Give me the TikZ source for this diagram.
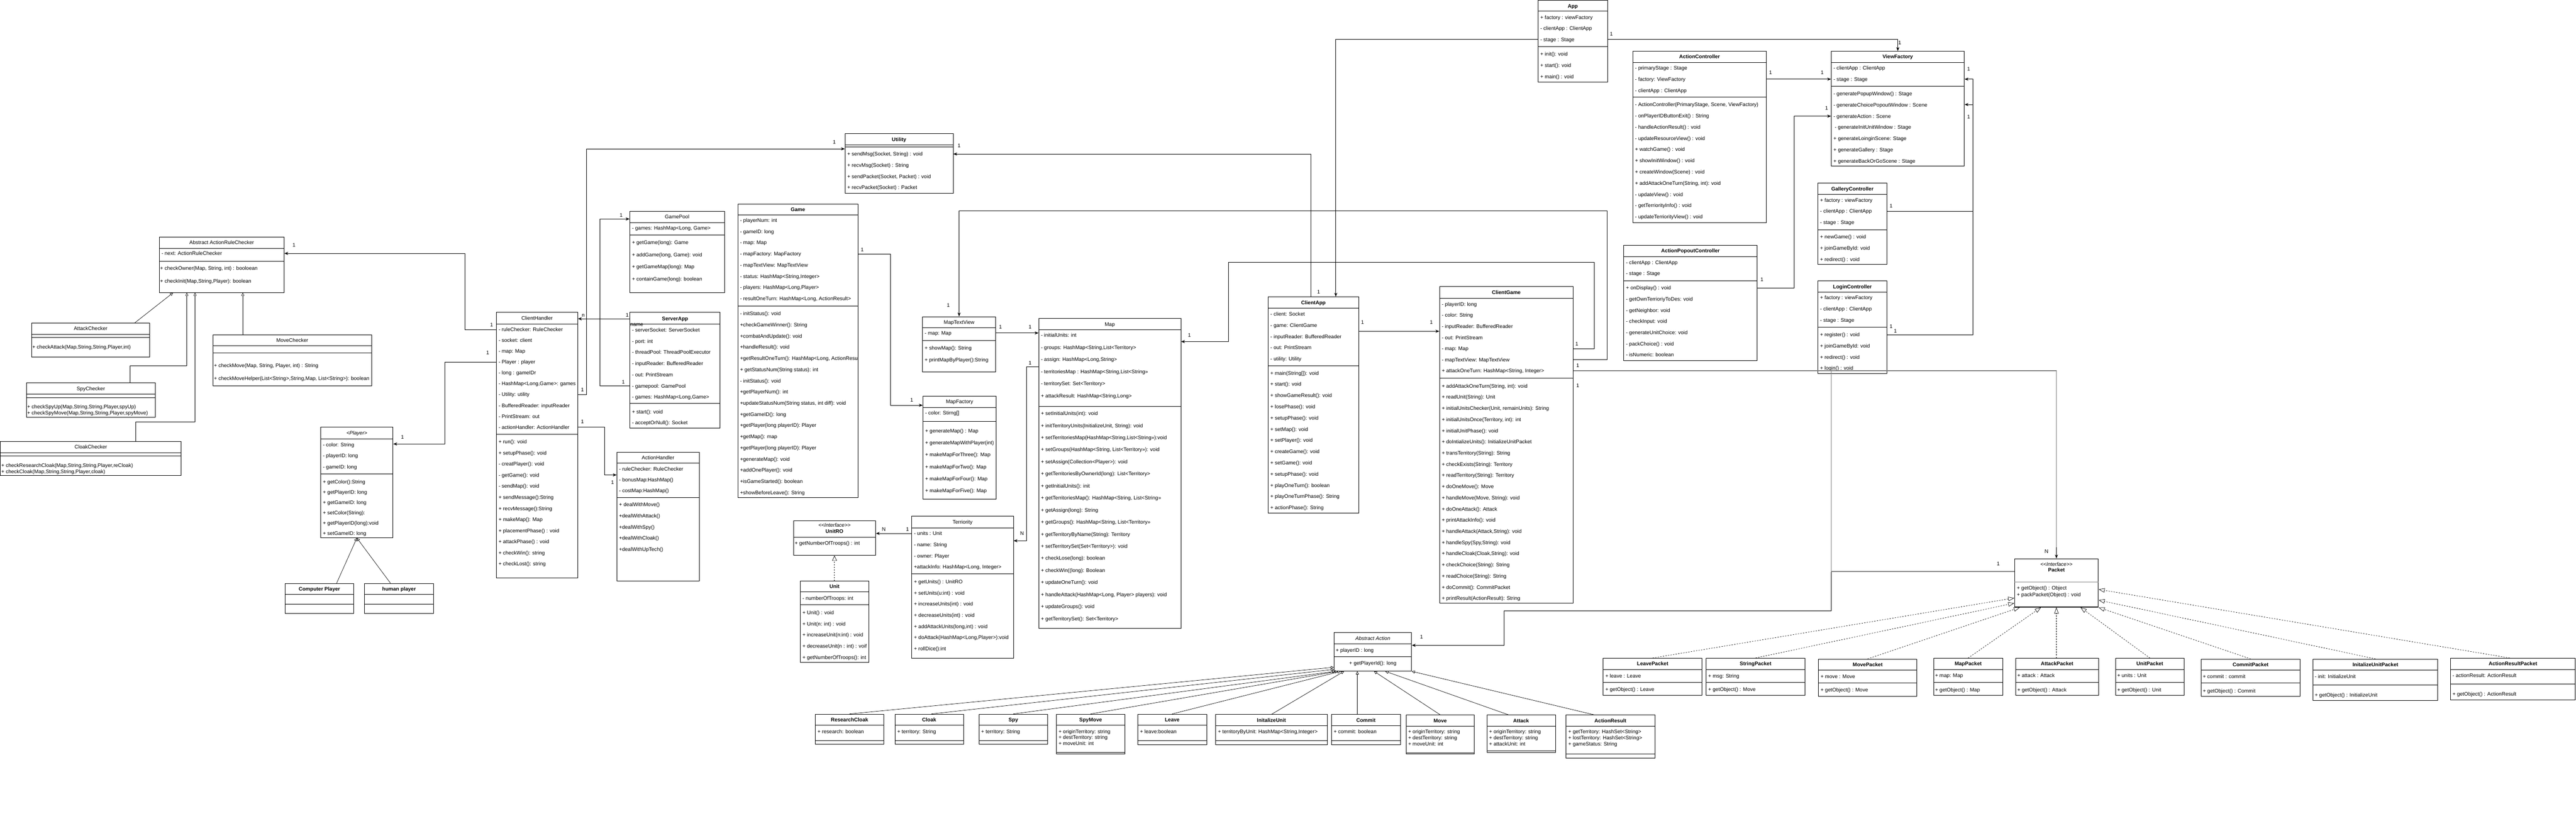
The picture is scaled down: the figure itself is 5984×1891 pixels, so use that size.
\documentclass[tikz,border=0pt]{standalone}
\usepackage{fontspec}
\setmainfont{Liberation Sans}
\usetikzlibrary{arrows.meta,fit}

\tikzset{
  classbox/.style={draw, line width=1pt, inner sep=0pt},
  ttl/.style={inner sep=0pt, text height=8.6pt, text depth=0pt, font=\fontsize{12}{14}\selectfont},
  bttl/.style={ttl, font=\fontsize{12}{14}\selectfont\bfseries},
  ittl/.style={ttl, font=\fontsize{12}{14}\selectfont\itshape},
  rowtxt/.style={anchor=west, inner sep=0pt, text height=8.6pt, text depth=0pt, font=\fontsize{12}{14}\selectfont},
  divider/.style={line width=1pt},
  assoc/.style={line width=1pt, -{Stealth[length=9pt,width=7pt]}},
  gensmall/.style={line width=0.8pt, -{Triangle[open,length=7pt,width=7pt]}},
  realize/.style={line width=0.8pt, dash pattern=on 3pt off 3pt, -{Triangle[open,length=14pt,width=10pt]}},
  thickgray/.style={line width=2.2pt, draw=black!50},
  multlbl/.style={inner sep=0pt, font=\fontsize{12}{14}\selectfont},
}

% a line across a class box at height #2
\newcommand\divline[2]{\draw[divider] (#1.west |- 0,#2) -- (#1.east |- 0,#2);}
% rows of a compartment: prefix, x, first y, pitch, list
\newcommand\rowsat[5]{\foreach \rtxt [count=\i] in {#5} {\pgfmathsetmacro\yy{#3+(\i-1)*#4}\node[rowtxt] (#1-\i) at (#2,\yy) {\rtxt};}}

\begin{document}
\begin{tikzpicture}[x=1pt, y=-1pt]
\fill[white] (0,0) rectangle (5984,1891);
\useasboundingbox (0,0) rectangle (5984,1891);

% rule checkers
\node[classbox, fit={(370,551) (660,680)}] (arc) {};
\node[ttl] (arc-t) at (arc.north |- 0,563) {Abstract ActionRuleChecker};
\divline{arc}{577}\divline{arc}{607}
\rowsat{arca}{375}{589}{29}{- next: ActionRuleChecker}
\rowsat{arcm}{372}{624}{29}{{+ checkOwner(Map, String, int) : booloean}, {+ checkInit(Map,String,Player): boolean}}

\node[classbox, fit={(73,751) (348,830)}] (attackchk) {};
\node[ttl] (attackchk-t) at (attackchk.north |- 0,764) {AttackChecker};
\divline{attackchk}{777}\divline{attackchk}{784}
\rowsat{attackchkm}{75}{806}{15}{{+ checkAttack(Map,String,String,Player,int)}}

\node[classbox, fit={(495,778) (863,897)}] (movechk) {};
\node[ttl] (movechk-t) at (movechk.north |- 0,791) {MoveChecker};
\divline{movechk}{804}\divline{movechk}{820}
\rowsat{movechkm}{497}{850}{30}{{+ checkMove(Map, String, Player,  int) : String}, {+ checkMoveHelper(List<String>,String,Map, List<String>): boolean}}

\node[classbox, fit={(61,890) (361,970)}] (spychk) {};
\node[ttl] (spychk-t) at (spychk.north |- 0,903) {SpyChecker};
\divline{spychk}{916}\divline{spychk}{925}
\rowsat{spychkm}{63}{945}{15}{{+ checkSpyUp(Map,String,String,Player,spyUp)}, {+ checkSpyMove(Map,String,String,Player,spyMove)}}

\node[classbox, fit={(1,1026) (421,1105)}] (cloakchk) {};
\node[ttl] (cloakchk-t) at (cloakchk.north |- 0,1039) {CloakChecker};
\divline{cloakchk}{1052}\divline{cloakchk}{1060}
\rowsat{cloakchkm}{3}{1082}{14}{{+ checkResearchCloak(Map,String,String,Player,reCloak)}, {+ checkCloak(Map,String,String,Player,cloak)}}

% players
\node[classbox, fit={(745,993) (913,1250)}] (player) {};
\node[ittl] (player-t) at (player.north |- 0,1006) {<Player>};
\divline{player}{1020}\divline{player}{1101}
\rowsat{playera}{750}{1034}{25.5}{- color: String, - playerID: long, - gameID: long}
\rowsat{playerm}{750}{1120}{24}{+ getColor():String, + getPlayerID: long, + getGameID: long, + setColor(String):, + getPlayerID(long):void, + setGameID: long}

\node[classbox, fit={(662,1356) (822,1426)}] (comp) {};
\node[bttl] (comp-t) at (comp.north |- 0,1369) {Computer Player};
\divline{comp}{1382}\divline{comp}{1404}

\node[classbox, fit={(847,1356) (1007,1426)}] (human) {};
\node[bttl] (human-t) at (human.north |- 0,1369) {human player};
\divline{human}{1382}\divline{human}{1404}

% server side
\node[classbox, fit={(1153,726) (1342,1343)}] (ch) {};
\node[ttl] (ch-t) at (ch.north |- 0,740) {ClientHandler};
\divline{ch}{753}\divline{ch}{1009}
\rowsat{cha}{1158}{766}{25.2}{- ruleChecker: RuleChecker, - socket: client, - map: Map, - Player : player, - long : gameIDr, {- HashMap<Long,Game>: games}, - Utility: utility, - BufferedReader: inputReader, - PrintStream: out, - actionHandler: ActionHandler}
\rowsat{chm}{1158}{1027}{25.8}{+ run(): void, + setupPhase(): void, - creatPlayer(): void, - getGame(): void, - sendMap(): void, + sendMessage():String, + recvMessage():String, + makeMap(): Map, + placementPhase() : void, + attackPhase() : void, + checkWin(): string, + checkLost(): string}

\node[classbox, fit={(1463,491) (1683,680)}] (gp) {};
\node[ttl] (gp-t) at (gp.north |- 0,504) {GamePool};
\divline{gp}{517}\divline{gp}{546}
\rowsat{gpa}{1468}{530}{28}{{- games: HashMap<Long, Game>}}
\rowsat{gpm}{1468}{564}{28}{+ getGame(long): Game, {+ addGame(long, Game): void}, + getGameMap(long): Map, + containGame(long): boolean}

\node[classbox, fit={(1463,726) (1673,995)}] (sa) {};
\node[bttl] (sa-t) at (sa.north |- 0,741) {ServerApp};
\divline{sa}{753}\divline{sa}{938}
\node[rowtxt] (sa-name) at (1464,754) {name};
\rowsat{saa}{1468}{767}{26}{- serverSocket: ServerSocket, - port: int, - threadPool: ThreadPoolExecutor, - inputReader: BufferedReader, - out: PrintStream, - gamepool: GamePool, {- games: HashMap<Long,Game>}}
\rowsat{sam}{1468}{957}{26}{+ start(): void, - acceptOrNull(): Socket}

\node[classbox, fit={(1433,1051) (1624,1350)}] (ah) {};
\node[ttl] (ah-t) at (ah.north |- 0,1064) {ActionHandler};
\divline{ah}{1077}\divline{ah}{1156}
\rowsat{aha}{1438}{1090}{25}{- ruleChecker: RuleChecker, - bonusMap:HashMap(), - costMap:HashMap()}
\rowsat{ahm}{1438}{1173}{26}{+ dealWithMove(), +dealWithAttack(), +dealWithSpy(), +dealWithCloak(), +dealWithUpTech()}

\node[classbox, fit={(1714,474) (1993,1157)}] (game) {};
\node[bttl] (game-t) at (game.north |- 0,487) {Game};
\divline{game}{500}\divline{game}{711}
\rowsat{gamea}{1719}{512}{26}{- playerNum: int, - gameID: long, - map: Map, - mapFactory: MapFactory, - mapTextView: MapTextView, {- status: HashMap<String,Integer>}, {- players: HashMap<Long,Player>}, {- resultOneTurn: HashMap<Long, ActionResult>}}
\rowsat{gamem}{1719}{729}{26}{- initStatus(): void, +checkGameWinner(): String, +combatAndUpdate(): void, +handleResult(): void, {+getResultOneTurn(): HashMap<Long, ActionResu}, + getStatusNum(String status): int, - initStatus(): void, +getPlayerNum(): int, {+updateStatusNum(String status, int diff): void}, +getGameID(): long, +getPlayer(long playerID): Player, +getMap(): map, +getPlayer(long playerID): Player, +generateMap(): void, +addOnePlayer(): void, +isGameStarted(): boolean, +showBeforeLeave(): String}

\node[classbox, fit={(1963,311) (2214,449)}] (util) {};
\node[bttl] (util-t) at (util.north |- 0,324) {Utility};
\divline{util}{337}\divline{util}{341}
\rowsat{utilm}{1968}{358}{26}{{+ sendMsg(Socket, String) : void}, + recvMsg(Socket) : String, {+ sendPacket(Socket, Packet) : void}, + recvPacket(Socket) : Packet}

% map side
\node[classbox, fit={(2143,736) (2313,865)}] (mtv) {};
\node[ttl] (mtv-t) at (mtv.north |- 0,749) {MapTextView};
\divline{mtv}{762}\divline{mtv}{791}
\rowsat{mtva}{2148}{774}{28}{- map: Map}
\rowsat{mtvm}{2148}{809}{28}{+ showMap(): String, + printMapByPlayer():String}

\node[classbox, fit={(2144,921) (2314,1160)}] (mf) {};
\node[ttl] (mf-t) at (mf.north |- 0,933) {MapFactory};
\divline{mf}{947}\divline{mf}{980}
\rowsat{mfa}{2149}{960}{28}{- color: Stirng[]}
\rowsat{mfm}{2149}{1001}{28}{+ generateMap() : Map, + generateMapWithPlayer(int), + makeMapForThree(): Map, + makeMapForTwo(): Map, + makeMapForFour(): Map, + makeMapForFive(): Map}

\node[classbox, fit={(2413,740) (2743,1460)}] (map) {};
\node[ttl] (map-t) at (map.north |- 0,754) {Map};
\divline{map}{766}\divline{map}{945}
\rowsat{mapa}{2418}{779}{28.2}{- initialUnits: int, {- groups: HashMap<String,List<Territory>}, {- assign: HashMap<Long,String>}, {- territoriesMap : HashMap<String,List<String>>}, - territorySet: Set<Territory>, {+ attackResult: HashMap<String,Long>}}
\rowsat{mapm}{2418}{961}{28.06}{+ setInitialUnits(int): void, {+ initTerritoryUnits(InitializeUnit, String): void}, {+ setTerritoriesMap(HashMap<String,List<String>>):void}, {+ setGroups(HashMap<String, List<Territory>>): void}, + setAssign(Collection<Player>): void, + getTerritoriesByOwnerId(long): List<Territory>, + getInitialUnits(): init, {+ getTerritoriesMap(): HashMap<String, List<String>>}, + getAssign(long): String, {+ getGroups(): HashMap<String, List<Territory>>}, + getTerritoryByName(String): Territory, + setTerritorySet(Set<Territory>): void, + checkLose(long): boolean, + checkWin((long): Boolean, + updateOneTurn(): void, {+ handleAttack(HashMap<Long, Player> players): void}, + updateGroups(): void, + getTerritorySet(): Set<Territory>}

\node[classbox, fit={(2118,1200) (2354,1530)}] (terr) {};
\node[ttl] (terr-t) at (terr.north |- 0,1213) {Terriority};
\divline{terr}{1227}\divline{terr}{1334}
\rowsat{terra}{2123}{1240}{26}{- units : Unit, - name: String, - owner: Player, {+attackInfo: HashMap<Long, Integer>}}
\rowsat{terrm}{2123}{1352}{26}{+ getUnits() :  UnitRO, + setUnits(u:int) :  void, + increaseUnits(int) :  void, + decreaseUnits(int) :  void, {+ addAttackUnits(long,int) :  void}, {+ doAttack(HashMap<Long,Player>):void}, + rollDice():int}

\node[classbox, fit={(1843,1210) (2034,1291)}] (unitro) {};
\node[ittl] (unitro-s) at (unitro.north |- 0,1221) {<{}<Interface>{}>};
\node[bttl] (unitro-t) at (unitro.north |- 0,1235) {UnitRO};
\divline{unitro}{1249}
\rowsat{unitrom}{1846}{1263}{26}{+ getNumberOfTroops() : int}

\node[classbox, fit={(1859,1351) (2018,1540)}] (unit) {};
\node[bttl] (unit-t) at (unit.north |- 0,1363) {Unit};
\divline{unit}{1376}\divline{unit}{1406}
\rowsat{unita}{1864}{1390}{26}{- numberOfTroops: int}
\rowsat{unitm}{1864}{1424}{26}{+ Unit() : void, + Unit(n: int) : void, + increaseUnit(n:int) :  void, + decreaseUnit(n : int) : voif, + getNumberOfTroops(): int}

% client side
\node[classbox, fit={(2946,690) (3156,1193)}] (capp) {};
\node[bttl] (capp-t) at (capp.north |- 0,704) {ClientApp};
\divline{capp}{716}\divline{capp}{850}
\rowsat{cappa}{2951}{730}{26}{- client: Socket, - game: ClientGame, - inputReader: BufferedReader, - out: PrintStream, - utility: Utility}
\rowsat{cappm}{2951}{867}{26.1}{+ main(String[]): void, + start(): void, + showGameResult(): void, + losePhase(): void, + setupPhase(): void, + setMap(): void, + setPlayer(): void, + createGame(): void, + setGame(): void, + setupPhase(): void, + playOneTurn(): boolean, + playOneTurnPhase(): String, + actionPhase(): String}

\node[classbox, fit={(3344,666) (3654,1402)}] (cgame) {};
\node[bttl] (cgame-t) at (cgame.north |- 0,680) {ClientGame};
\divline{cgame}{693}\divline{cgame}{879}
\rowsat{cga}{3349}{707}{25.8}{- playerID: long, - color: String, - inputReader: BufferedReader, - out: PrintStream, - map: Map, - mapTextView: MapTextView, {+ attackOneTurn: HashMap<String, Integer>}}
\rowsat{cgm}{3349}{897}{26}{{+ addAttackOneTurn(String, int): void}, + readUnit(String): Unit, {+ initialUnitsChecker(Unit, remainUnits): String}, {+ initialUnitsOnce(Territory, int): int}, + initialUnitPhase(): void, + doIntializeUnits(): InitializeUnitPacket, + transTerritory(String): String, + checkExists(String): Territory, + readTerritory(String): Territory, + doOneMove(): Move, {+ handleMove(Move, String): void}, + doOneAttack(): Attack, + printAttackInfo(): void, {+ handleAttack(Attack,String): void}, {+ handleSpy(Spy,String): void}, {+ handleCloak(Cloak,String): void}, + checkChoice(String): String, + readChoice(String): String, + doCommit(): CommitPacket, + printResult(ActionResult): String}

% views
\node[classbox, fit={(3573,1) (3734,191)}] (app) {};
\node[bttl] (app-t) at (app.north |- 0,14) {App};
\divline{app}{26}\divline{app}{108}
\rowsat{appa}{3578}{40}{26}{+ factory : viewFactory, - clientApp : ClientApp, - stage : Stage}
\rowsat{appm}{3578}{126}{26}{+ init(): void, + start(): void, + main() : void}

\node[classbox, fit={(3793,119) (4103,517)}] (actc) {};
\node[bttl] (actc-t) at (actc.north |- 0,131) {ActionController};
\divline{actc}{145}\divline{actc}{226}
\rowsat{actca}{3798}{158}{26}{- primaryStage : Stage, - factory: ViewFactory, - clientApp : ClientApp}
\rowsat{actcm}{3798}{243}{26.1}{{- ActionController(PrimaryStage, Scene, ViewFactory)}, - onPlayerIDButtonExit() : String, - handleActionResult() : void, - updateResourceView() : void, + watchGame() : void, + showInitWindow() : void, + createWindow(Scene) : void, {+ addAttackOneTurn(String, int): void}, - updateView() : void, - getTerriorityInfo() : void, - updateTerriorityView() : void}

\node[classbox, fit={(4254,119) (4563,386)}] (vf) {};
\node[bttl] (vf-t) at (vf.north |- 0,131) {ViewFactory};
\divline{vf}{145}\divline{vf}{200}
\rowsat{vfa}{4259}{158}{26}{- clientApp : ClientApp, - stage : Stage}
\rowsat{vfm}{4259}{218}{26}{- generatePopupWindow() : Stage, - generateChoicePopoutWindow : Scene, - generateAction : Scene, \hspace*{3pt}- generateInitUnitWindow : Stage, + generateLoinginScene: Stage, + generateGallery : Stage, + generateBackOrGoScene : Stage}

\node[classbox, fit={(4223,425) (4383,615)}] (galc) {};
\node[bttl] (galc-t) at (galc.north |- 0,439) {GalleryController};
\divline{galc}{452}\divline{galc}{534}
\rowsat{galca}{4228}{465}{26}{+ factory : viewFactory, - clientApp : ClientApp, - stage : Stage}
\rowsat{galcm}{4228}{551}{26}{+ newGame() : void, + joinGameById: void, + redirect() : void}

\node[classbox, fit={(4223,653) (4383,868)}] (logc) {};
\node[bttl] (logc-t) at (logc.north |- 0,666) {LoginController};
\divline{logc}{679}\divline{logc}{761}
\rowsat{logca}{4228}{692}{26}{+ factory : viewFactory, - clientApp : ClientApp, - stage : Stage}
\rowsat{logcm}{4228}{778}{26}{+ register() : void, + joinGameById: void, + redirect() : void, + login() : void}

\node[classbox, fit={(3772,570) (4082,838)}] (apc) {};
\node[bttl] (apc-t) at (apc.north |- 0,583) {ActionPopoutController};
\divline{apc}{596}\divline{apc}{653}
\rowsat{apca}{3777}{610}{25.5}{- clientApp : ClientApp, - stage : Stage}
\rowsat{apcm}{3777}{669}{26}{+ onDisplay() : void, - getOwnTerrioriyToDes: void, - getNeighbor: void, - checkInput: void, - generateUnitChoice: void, - packChoice() : void, - isNumeric: boolean}

% packets
\node[classbox, line width=2pt, fit={(4680,1299) (4874,1411)}] (packet) {};
\node[ittl] (packet-s) at (packet.north |- 0,1312) {<{}<Interface>{}>};
\node[bttl] (packet-t) at (packet.north |- 0,1325) {Packet};
\draw[divider, black!45] (packet.west |- 0,1353) -- (packet.east |- 0,1353);
\rowsat{packetm}{4685}{1367}{15}{+ getObject() : Object, + packPacket(Object) : void}

\node[classbox, fit={(3724,1530) (3954,1616)}] (leavep) {};
\node[bttl] (leavep-t) at (leavep.north |- 0,1543) {LeavePacket};
\divline{leavep}{1556}\divline{leavep}{1586}
\node[rowtxt] (leavep-a) at (3729,1571) {+ leave : Leave};
\node[rowtxt] (leavep-m) at (3729,1602) {+ getObject() : Leave};

\node[classbox, fit={(3963,1530) (4193,1616)}] (strp) {};
\node[bttl] (strp-t) at (strp.north |- 0,1543) {StringPacket};
\divline{strp}{1556}\divline{strp}{1586}
\node[rowtxt] (strp-a) at (3968,1571) {+ msg: String};
\node[rowtxt] (strp-m) at (3968,1602) {+ getObject() : Move};

\node[classbox, fit={(4224,1532) (4453,1618)}] (movep) {};
\node[bttl] (movep-t) at (movep.north |- 0,1545) {MovePacket};
\divline{movep}{1558}\divline{movep}{1588}
\node[rowtxt] (movep-a) at (4229,1573) {+ move : Move};
\node[rowtxt] (movep-m) at (4229,1604) {+ getObject() : Move};

\node[classbox, fit={(4492,1530) (4652,1616)}] (mapp) {};
\node[bttl] (mapp-t) at (mapp.north |- 0,1543) {MapPacket};
\divline{mapp}{1556}\divline{mapp}{1586}
\node[rowtxt] (mapp-a) at (4495,1570) {+ map: Map};
\node[rowtxt] (mapp-m) at (4495,1604) {+ getObject() : Map};

\node[classbox, fit={(4682,1530) (4875,1616)}] (attp) {};
\node[bttl] (attp-t) at (attp.north |- 0,1543) {AttackPacket};
\divline{attp}{1556}\divline{attp}{1586}
\node[rowtxt] (attp-a) at (4686,1570) {+ attack : Attack};
\node[rowtxt] (attp-m) at (4686,1604) {+ getObject() : Attack};

\node[classbox, fit={(4914,1530) (5074,1616)}] (unitp) {};
\node[bttl] (unitp-t) at (unitp.north |- 0,1543) {UnitPacket};
\divline{unitp}{1556}\divline{unitp}{1586}
\node[rowtxt] (unitp-a) at (4918,1570) {+ units : Unit};
\node[rowtxt] (unitp-m) at (4918,1604) {+ getObject() : Unit};

\node[classbox, fit={(5113,1532) (5343,1618)}] (commitp) {};
\node[bttl] (commitp-t) at (commitp.north |- 0,1545) {CommitPacket};
\divline{commitp}{1558}\divline{commitp}{1588}
\node[rowtxt] (commitp-a) at (5117,1572) {+ commit : commit};
\node[rowtxt] (commitp-m) at (5117,1606) {+ getObject() : Commit};

\node[classbox, fit={(5373,1532) (5663,1628)}] (initp) {};
\node[bttl] (initp-t) at (initp.north |- 0,1545) {InitalizeUnitPacket};
\divline{initp}{1558}\divline{initp}{1592}
\node[rowtxt] (initp-a) at (5377,1572) {- init: InitializeUnit};
\node[rowtxt] (initp-m) at (5377,1615) {+ getObject() :  InitializeUnit};

\node[classbox, fit={(5693,1530) (5982,1627)}] (arp) {};
\node[bttl] (arp-t) at (arp.north |- 0,1543) {ActionResultPacket};
\divline{arp}{1556}\divline{arp}{1590}
\node[rowtxt] (arp-a) at (5697,1570) {- actionResult: ActionResult};
\node[rowtxt] (arp-m) at (5697,1613) {+ getObject() :  ActionResult};

% actions
\node[classbox, fit={(3099,1470) (3279,1560)}] (action) {};
\node[ittl] (action-t) at (action.north |- 0,1484) {Abstract Action};
\divline{action}{1497}\divline{action}{1526}
\node[rowtxt] (action-a) at (3103,1511) {+ playerID : long};
\node[ttl] (action-m) at (action.north |- 0,1541) {+ getPlayerId(): long};

\node[classbox, fit={(1894,1660) (2053,1730)}] (rcloak) {};
\node[bttl] (rcloak-t) at (rcloak.north |- 0,1673) {ResearchCloak};
\divline{rcloak}{1686}\divline{rcloak}{1721}
\node[rowtxt] (rcloak-a) at (1899,1700) {+ research: boolean};

\node[classbox, fit={(2079,1660) (2238,1730)}] (cloak) {};
\node[bttl] (cloak-t) at (cloak.north |- 0,1673) {Cloak};
\divline{cloak}{1686}\divline{cloak}{1721}
\node[rowtxt] (cloak-a) at (2084,1700) {+ territory: String};

\node[classbox, fit={(2274,1660) (2434,1730)}] (spy) {};
\node[bttl] (spy-t) at (spy.north |- 0,1673) {Spy};
\divline{spy}{1686}\divline{spy}{1721}
\node[rowtxt] (spy-a) at (2279,1700) {+ territory: String};

\node[classbox, fit={(2454,1660) (2613,1752)}] (spymove) {};
\node[bttl] (spymove-t) at (spymove.north |- 0,1673) {SpyMove};
\divline{spymove}{1686}\divline{spymove}{1749}
\rowsat{spymovea}{2459}{1700}{14}{+ originTerritory: string, + destTerritory: string, + moveUnit: int}

\node[classbox, fit={(2643,1660) (2803,1731)}] (leave) {};
\node[bttl] (leave-t) at (leave.north |- 0,1673) {Leave};
\divline{leave}{1686}\divline{leave}{1721}
\node[rowtxt] (leave-a) at (2648,1700) {+ leave:boolean};

\node[classbox, fit={(2824,1661) (3083,1731)}] (initu) {};
\node[bttl] (initu-t) at (initu.north |- 0,1674) {InitalizeUnit};
\divline{initu}{1687}\divline{initu}{1721}
\node[rowtxt] (initu-a) at (2829,1701) {+ territoryByUnit: HashMap<String,Integer>};

\node[classbox, fit={(3093,1661) (3253,1731)}] (commit) {};
\node[bttl] (commit-t) at (commit.north |- 0,1674) {Commit};
\divline{commit}{1687}\divline{commit}{1721}
\node[rowtxt] (commit-a) at (3098,1701) {+ commit: boolean};

\node[classbox, fit={(3266,1662) (3425,1753)}] (move) {};
\node[bttl] (move-t) at (move.north |- 0,1675) {Move};
\divline{move}{1688}\divline{move}{1750}
\rowsat{movea}{3271}{1701}{14}{+ originTerritory: string, + destTerritory: string, + moveUnit: int}

\node[classbox, fit={(3454,1662) (3613,1749)}] (attack) {};
\node[bttl] (attack-t) at (attack.north |- 0,1675) {Attack};
\divline{attack}{1688}\divline{attack}{1746}
\rowsat{attacka}{3459}{1701}{14}{+ originTerritory: string, + destTerritory: string, + attackUnit: int}

\node[classbox, fit={(3638,1662) (3844,1762)}] (ares) {};
\node[bttl] (ares-t) at (ares.north |- 0,1675) {ActionResult};
\divline{ares}{1688}\divline{ares}{1752}
\rowsat{aresa}{3643}{1701}{14}{+ getTerritory: HashSet<String>, + lostTerritory: HashSet<String>, + gameStatus: String}

% associations
\draw[assoc] (ch.west |- cha-1) -| (1080,589) -- (arc.east |- arca-1);
\draw[assoc] (ch.west |- cha-4) -| (1033,1032) -- (player.east |- 0,1032);
\draw[assoc] (ch.east |- cha-7) -| (1363,346) -- (util.west |- 0,346);
\draw[assoc] (ch.east |- cha-10) -| (1404,1104) -- (ah.west |- 0,1104);
\draw[assoc] (sa.west |- 0,741) -- (ch.east |- 0,741);
\draw[assoc] (sa.west |- saa-6) -| (1393,509) -- (gp.west |- 0,509);
\draw[assoc] (game.east |- gamea-4) -| (2068,942) -- (mf.west |- 0,942);
\draw[assoc] (mtv.east |- mtva-1) -- (map.west |- mtva-1);
\draw[assoc] (map.west |- 0,853) -| (2384,1257) -- (terr.east |- 0,1257);
\draw[assoc] (terr.west |- terra-1) -- (unitro.east |- terra-1);
\draw[assoc] (capp.north -| 3045,0) |- (util.east |- 0,358);
\draw[assoc] (app.west |- appa-3) -| (capp.north -| 3103,0);
\draw[assoc] (capp.east |- 0,770) -- (cgame.west |- 0,770);
\draw[assoc] (cgame.east |- cga-5) -| (3703,610) -| (2854,794) -- (map.east |- 0,794);
\draw[assoc] (cgame.east |- cga-6) -| (3733,490) -| (mtv.north);
\draw[assoc] (cgame.east |- cga-7) -| (4254,1420) -| (3494,1500) -- (action.east |- 0,1500);
\coordinate (pk) at (4254,1328);
\draw[thickgray] (cgame.east |- cga-7) -| (pk) -- (packet.west |- pk);
\draw[thickgray] (cgame.east |- cga-7) -| ([yshift=26pt]packet.north);
\draw[assoc] ([yshift=26pt]packet.north) -- (packet.north);
\draw[assoc] (app.east |- appa-3) -| (vf.north);
\draw[assoc] (actc.east |- 0,184) -- (vf.west |- 0,184);
\draw[assoc] (galc.east |- galca-2) -| (4583,184) -- (vf.east |- 0,184);
\draw[assoc] (logc.east |- logcm-1) -| (4583,243) -- (vf.east |- 0,243);
\draw[assoc] (apc.east |- apcm-1) -| (4168,270) -- (vf.west |- 0,270);

% generalisations
\draw[gensmall] (attackchk.north -| 313,0) -- (arc.south -| 402,0);
\draw[gensmall] (spychk.north -| 302,0) |- (434,850) -- (arc.south -| 434,0);
\draw[gensmall] (cloakchk.north -| 315,0) |- (453,980) -- (arc.south -| 453,0);
\draw[gensmall] (movechk.north -| 564,0) -- (arc.south -| 564,0);
\draw[gensmall] (comp.north -| 782,0) -- (player.south);
\draw[gensmall] (human.north -| 907,0) -- (player.south);
\draw[realize, -{Triangle[open,length=12pt,width=11pt]}] (unit.north) -- (unitro.south);

\draw[gensmall] (rcloak.north) -- (action.south west |- 0,1551);
\draw[gensmall] (cloak.north -| 2164,0) -- (action.south west |- 0,1556);
\draw[gensmall] (spy.north) -- (action.south -| 3102,0);
\draw[gensmall] (spymove.north) -- (action.south -| 3108,0);
\draw[gensmall] (leave.north) -- (action.south -| 3114,0);
\draw[gensmall] (initu.north) -- (action.south -| 3122,0);
\draw[gensmall] (commit.north -| 3153,0) -- (action.south -| 3153,0);
\draw[gensmall] (move.north) -- (action.south -| 3192,0);
\draw[gensmall] (attack.north -| 3504,0) -- (action.south -| 3218,0);
\draw[gensmall] (ares.north -| 3703,0) -- (action.south east);

\draw[realize] (leavep.north) -- (packet.west |- 0,1390);
\draw[realize] (strp.north) -- (packet.west |- 0,1402);
\draw[realize] (movep.north) -- (packet.south -| 4692,0);
\draw[realize] (mapp.north) -- (packet.south -| 4741,0);
\draw[realize] (attp.north -| 4777,0) -- (packet.south -| 4777,0);
\draw[realize] (unitp.north) -- (packet.south -| 4833,0);
\draw[realize] (commitp.north) -- (packet.south east);
\draw[realize] (initp.north) -- (packet.east |- 0,1395);
\draw[realize] (arp.north -| 5830,0) -- (packet.east |- 0,1370);

% multiplicities
\foreach \mx/\my/\ms [count=\k] in {683/570/1, 1142/755/1, 935/1016/1, 1133/820/1, 1353/906/1, 1938/330/1, 1353/980/1, 1423/1122/1, 1355/733/n, 1457/733/1, 1448/888/1, 1443/500/1, 2003/580/1, 2118/930/1, 2324/760/1, 2393/760/1, 2393/844/1, 2374/1240/N, 2053/1230/N, 2108/1230/1, 3063/679/1, 2228/339/1, 3165/749/1, 3325/749/1, 3663/800/1, 2763/779/1, 3665/850/1, 2203/710/1, 3665/896/1, 4754/1282/N, 3302/1480/1, 4642/1310/1, 3743/79/1, 4413/99/1, 4113/169/1, 4233/169/1, 4393/479/1, 4573/160/1, 4393/759/1, 4403/769/1, 4573/272/1, 4093/650/1, 4243/251/1}
  \node[multlbl] (mult\k) at (\mx,\my) {\ms};
\end{tikzpicture}
\end{document}
